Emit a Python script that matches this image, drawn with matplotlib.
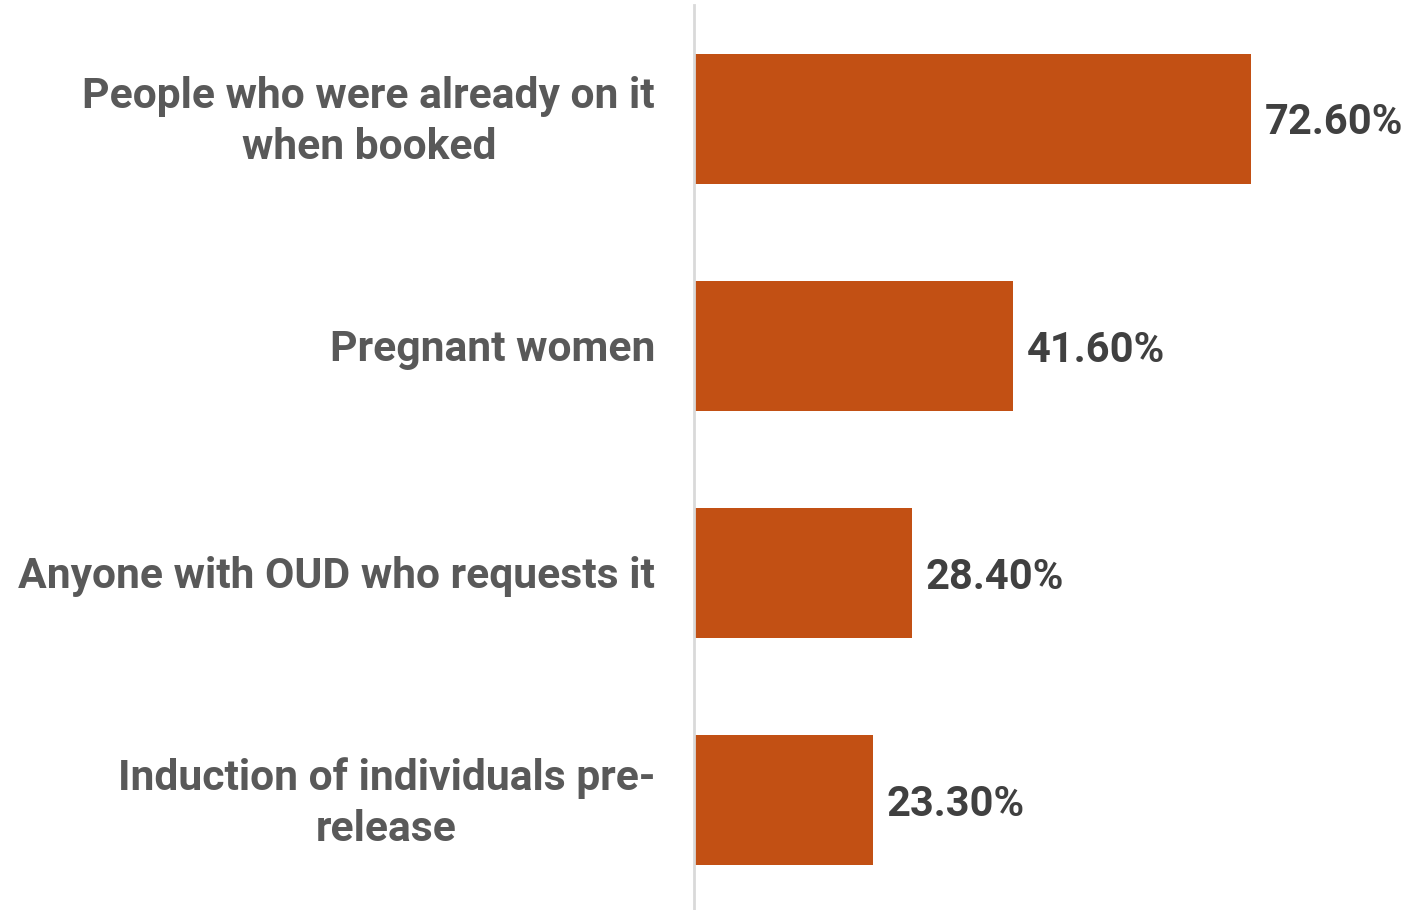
import matplotlib.pyplot as plt
import matplotlib.transforms as mtransforms

categories = [
    "People who were already on it\nwhen booked",
    "Pregnant women",
    "Anyone with OUD who requests it",
    "Induction of individuals pre-\nrelease",
]
values = [72.6, 41.6, 28.4, 23.3]
value_labels = ["72.60%", "41.60%", "28.40%", "23.30%"]

BAR_COLOR = "#C25014"
LABEL_COLOR = "#595959"
VALUE_COLOR = "#404040"

plt.rcParams["font.family"] = ["Roboto", "DejaVu Sans"]

fig = plt.figure(figsize=(14.21, 9.1), dpi=100)
ax = fig.add_axes([694 / 1421, -4 / 910, 1 - 694 / 1421, 909 / 910])

# nudge texts a few pixels down to sit like the reference
shift = mtransforms.ScaledTranslation(0, -3 / 72, fig.dpi_scale_trans)
LABEL_NUDGE = 0.015

y = list(range(len(categories)))
ax.barh(y, values, height=0.573, color=BAR_COLOR)
ax.set_ylim(len(categories) - 0.5, -0.5)
ax.set_xlim(0, 94.8)

for yi, v, lab in zip(y, values, value_labels):
    ax.text(v + 1.85, yi, lab, va="center", ha="left", fontsize=30,
            fontweight="bold", color=VALUE_COLOR,
            transform=ax.transData + shift)

ax.set_yticks([yi + LABEL_NUDGE for yi in y])
ax.set_yticklabels(categories, fontsize=30.7, fontweight="bold",
                   color=LABEL_COLOR, linespacing=1.32)
for t in ax.get_yticklabels():
    t.set_horizontalalignment("right")
    t.set_verticalalignment("center")
    t.set_multialignment("center")
ax.tick_params(axis="y", length=0, pad=28)
ax.set_xticks([])

for side in ["top", "right", "bottom"]:
    ax.spines[side].set_visible(False)
ax.spines["left"].set_color("#D9D9D9")
ax.spines["left"].set_linewidth(2)

fig.savefig("out.png", dpi=100)
